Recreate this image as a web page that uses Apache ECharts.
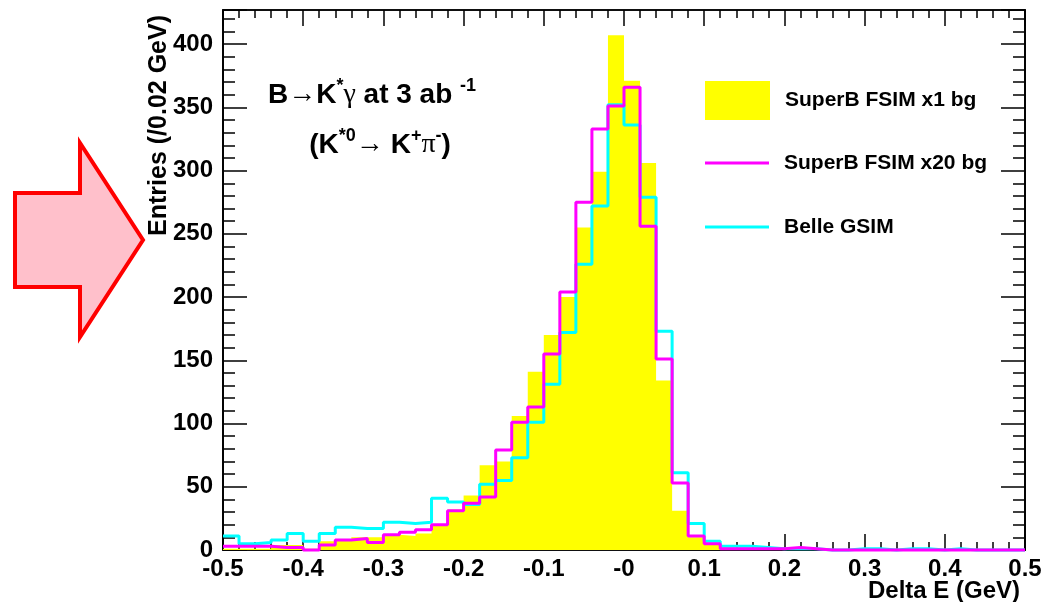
<!DOCTYPE html>
<html><head><meta charset="utf-8">
<script src="https://cdn.jsdelivr.net/npm/echarts@6/dist/echarts.min.js"></script>
<style>html,body{margin:0;padding:0;background:#fff}#c{width:1053px;height:602px}</style>
</head><body><div id="c"></div>
<script>
// Histogram binning (Delta E, GeV)
const binLow = -0.5;
const binWidth = 0.02;
const seriesNames = ['SuperB FSIM x1 bg', 'SuperB FSIM x20 bg', 'Belle GSIM'];
// Entries per 0.02 GeV bin, 50 bins from -0.5 to 0.5
const superbX1 = [1,1,1,4,4,1,7,8,10,10, 12,11,13,20,32,43,67,70,106,141, 170,200,255,299,407,371,306,134,31,10, 5,2,1,1,1,0,0,0,0,0, 0,0,0,0,0,0,0,0,0,0];
const superbX20 = [3,3,3,2,2,0,4,8,9,6, 12,14,16,20,31,37,42,79,101,113, 155,204,275,333,351,366,256,151,53,11, 5,1,1,1,1,2,1,0,0,0, 0,0,0,0,0,0,0,0,0,0];
const belleGsim = [11,5,6,8,13,7,13,18,17,17, 22,21,22,41,38,36,52,55,73,101, 131,172,226,272,352,336,279,173,61,21, 7,3,3,2,1,1,1,0,0,1, 1,0,1,1,0,1,0,0,0,0];
const xRange = [-0.5, 0.5];
const yRange = [0, 427];

function stepData(vals) {
  const d = vals.map((v, i) => [binLow + i * binWidth, v]);
  d.push([binLow + vals.length * binWidth, vals[vals.length - 1]]);
  return d;
}

const FONT = 'Liberation Sans, Arial, Helvetica, sans-serif';
const blackLine = { color: '#000', width: 1.5 };
const xFmt = v => (Math.abs(v) < 1e-9 ? '-0' : v.toFixed(1));
const yFmt = v => (Math.abs(v - Math.round(v)) < 1e-6 && Math.round(v) % 50 === 0 ? String(Math.round(v)) : '');

function xAxisDef(pos, withLabels) {
  const a = {
    type: 'value', position: pos, min: xRange[0], max: xRange[1], interval: 0.1,
    axisLine: { show: true, onZero: false, lineStyle: blackLine },
    axisTick: { show: true, inside: true, length: 16, lineStyle: blackLine },
    minorTick: { show: true, splitNumber: 5, length: 8, lineStyle: blackLine },
    splitLine: { show: false }, minorSplitLine: { show: false },
    axisLabel: { show: withLabels, margin: 7, color: '#000', fontFamily: FONT, fontWeight: 'bold', fontSize: 24, formatter: xFmt }
  };
  if (withLabels) {
    a.name = 'Delta E (GeV)';
    a.nameLocation = 'end';
    a.nameGap = 0;
    a.nameMoveOverlap = false;
    a.nameTextStyle = { color: '#000', fontFamily: FONT, fontWeight: 'bold', fontSize: 24, align: 'right', verticalAlign: 'top', padding: [29, 5, 0, 0] };
  }
  return a;
}
function yAxisDef(pos, interval, len, withLabels) {
  return {
    type: 'value', position: pos, min: yRange[0], max: yRange[1], interval: interval,
    axisLine: { show: true, onZero: false, lineStyle: blackLine },
    axisTick: { show: true, inside: true, length: len, lineStyle: blackLine },
    splitLine: { show: false },
    axisLabel: { show: withLabels, margin: 10, color: '#000', fontFamily: FONT, fontWeight: 'bold', fontSize: 24, formatter: yFmt }
  };
}

const legendText = { color: '#000', fontFamily: FONT, fontWeight: 'bold', fontSize: 21, lineHeight: 24, padding: [0, 0, 0, 10] };
function legendDef(name, top, w, h) {
  return { data: [{ name: name, icon: 'rect' }], left: 705, top: top, padding: 0, orient: 'vertical',
    itemWidth: w, itemHeight: h, selectedMode: false, textStyle: legendText };
}

const chart = echarts.init(document.getElementById('c'), null, { renderer: 'canvas' });
chart.setOption({
  animation: false,
  backgroundColor: '#fff',
  grid: { left: 223, top: 10, width: 802, height: 540, containLabel: false, outerBoundsMode: 'none',
    show: true, borderColor: '#000', borderWidth: 1.5, backgroundColor: 'transparent' },
  xAxis: [xAxisDef('bottom', true), xAxisDef('top', false)],
  yAxis: [yAxisDef('left', 50, 24, true), yAxisDef('left', 10, 12, false), yAxisDef('right', 50, 24, false), yAxisDef('right', 10, 12, false)],
  legend: [legendDef(seriesNames[0], 81, 65, 39), legendDef(seriesNames[1], 151, 64, 3), legendDef(seriesNames[2], 215, 64, 3)],
  series: [
    { name: seriesNames[0], type: 'line', step: 'end', symbol: 'none', color: '#ffff00', z: 1,
      lineStyle: { width: 0 }, areaStyle: { color: '#ffff00', opacity: 1 }, data: stepData(superbX1) },
    { name: seriesNames[2], type: 'line', step: 'end', symbol: 'none', color: '#00ffff', z: 2, clip: false,
      lineStyle: { width: 3, color: '#00ffff' }, data: stepData(belleGsim) },
    { name: seriesNames[1], type: 'line', step: 'end', symbol: 'none', color: '#ff00ff', z: 3, clip: false,
      lineStyle: { width: 3, color: '#ff00ff' }, data: stepData(superbX20) }
  ],
  graphic: [
    { type: 'polygon', shape: { points: [[15,193],[80,193],[80,143],[143,240],[80,337],[80,287],[15,287]] },
      style: { fill: '#ffc0cb', stroke: '#ff0000', lineWidth: 4 } },
    { type: 'text', x: 159, y: 15, rotation: Math.PI / 2,
      style: { text: 'Entries (/0.02 GeV)', fill: '#000', font: 'bold 25px ' + FONT, align: 'right', verticalAlign: 'middle' } },
    { type: 'text', x: 372, y: 95,
      style: { text: '{b|B}{g|→}{b|K}{s|*}{g|γ}{b| at 3 ab }{s|-1}', align: 'center', verticalAlign: 'middle',
        rich: {
          b: { fill: '#000', font: 'bold 28px ' + FONT, lineHeight: 36 },
          g: { fill: '#000', font: '28px Liberation Serif, DejaVu Serif, serif', lineHeight: 36 },
          s: { fill: '#000', font: 'bold 18px ' + FONT, verticalAlign: 'top' }
        } } },
    { type: 'text', x: 380, y: 145,
      style: { text: '{b|(K}{s|*0}{g|→ }{b|K}{s|+}{g|π}{s|-}{b|)}', align: 'center', verticalAlign: 'middle',
        rich: {
          b: { fill: '#000', font: 'bold 28px ' + FONT, lineHeight: 36 },
          g: { fill: '#000', font: '28px Liberation Serif, DejaVu Serif, serif', lineHeight: 36 },
          s: { fill: '#000', font: 'bold 18px ' + FONT, verticalAlign: 'top' }
        } } }
  ]
});
</script></body></html>
